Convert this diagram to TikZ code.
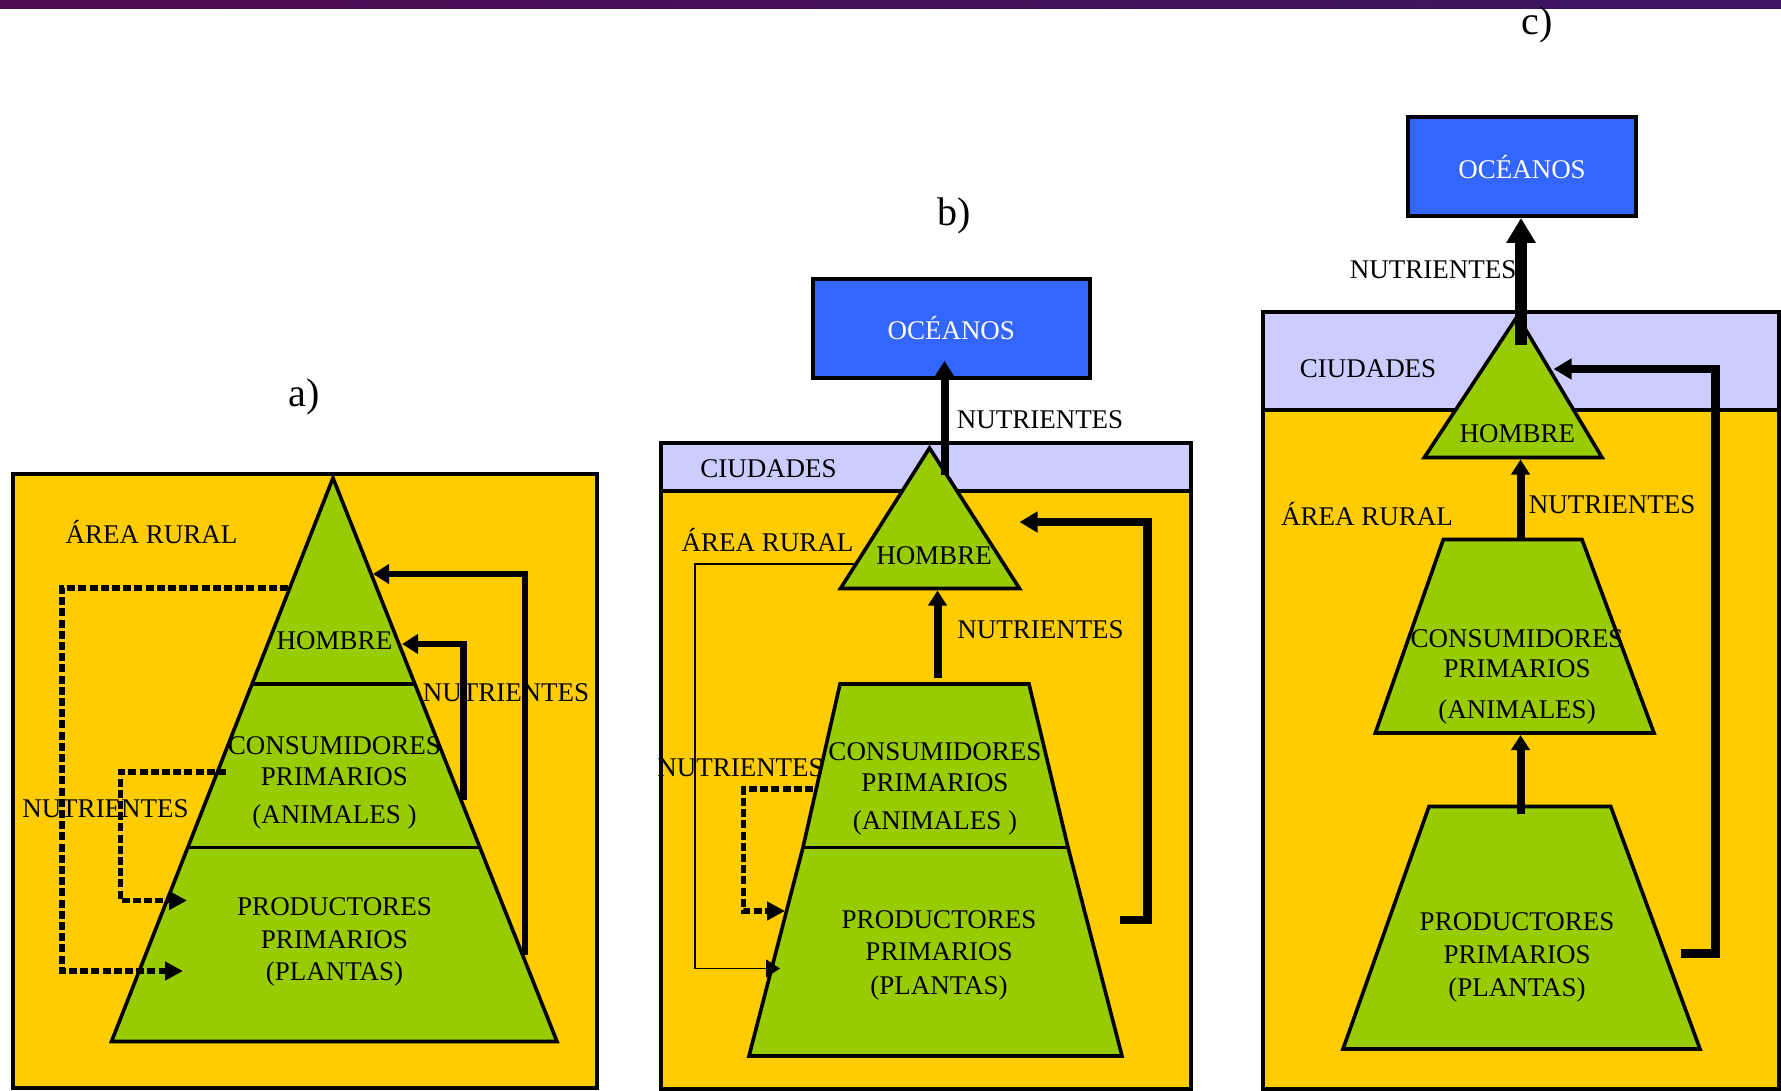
\documentclass[tikz,border=0pt]{standalone}
\usepackage{fontspec}
\setmainfont{Liberation Serif}
\usetikzlibrary{arrows.meta,calc}

\definecolor{ruralfill}{HTML}{FFCC00}
\definecolor{tierfill}{HTML}{99CC00}
\definecolor{oceanfill}{HTML}{3366FF}
\definecolor{cityfill}{HTML}{CCCCFF}
\definecolor{bandleft}{HTML}{4E0A50}
\definecolor{bandright}{HTML}{3C1662}

\begin{document}
\begin{tikzpicture}[x=0.5pt,y=-0.5pt,
  lbl/.style={font=\fontsize{13.5}{16}\selectfont, inner sep=0pt,
              text height=8.9pt, text depth=0pt, anchor=center},
  tag/.style={font=\fontsize{20}{24}\selectfont, inner sep=0pt},
  region/.style={draw=black, line width=2pt, fill=ruralfill},
  city/.style={draw=black, line width=2pt, fill=cityfill},
  ocean/.style={draw=black, line width=2pt, fill=oceanfill, text=white,
                font=\fontsize{13.5}{16}\selectfont, inner sep=0pt},
  tier/.style={draw=black, line width=1.8pt, fill=tierfill, line join=miter},
  divider/.style={draw=black, line width=1.8pt},
  flow/.style={line width=3.2pt, line join=miter,
               -{Triangle[length=8pt,width=9.5pt]}},
  flowup/.style={line width=4pt, -{Triangle[length=7.5pt,width=9pt]}},
  flowbig/.style={line width=6pt, -{Triangle[length=12.5pt,width=14pt]}},
  flowloop/.style={line width=4.2pt, line join=miter,
                   -{Triangle[length=9pt,width=10pt]}},
  recycle/.style={line width=3.2pt, dash pattern=on 4pt off 1.6pt,
                  line join=miter, -{Triangle[length=9pt,width=9pt]}},
  recyclethin/.style={recycle, line width=2.6pt},
  thinflow/.style={line width=0.8pt, -{Triangle[length=7pt,width=9pt]}}
]
\useasboundingbox (0,0) rectangle (1781,1091);
\fill[white] (0,0) rectangle (1781,1091);

% decorative band along the top edge
\shade[left color=bandleft, right color=bandright] (0,0) rectangle (1781,9);

% ================= a) rural area only =================
\node[tag] (tagA) at (304,397) {a)};
\draw[region] (13,474) rectangle (597,1088);

\coordinate (aTop) at (333,478);
\coordinate (aBL) at (111.5,1041.5);
\coordinate (aBR) at (557,1041.5);
\draw[tier] (aTop) -- (aBR) -- (aBL) -- cycle;
\draw[divider] ($(aTop)!0.3656!(aBL)$) -- ($(aTop)!0.3656!(aBR)$);
\draw[divider] ($(aTop)!0.6557!(aBL)$) -- ($(aTop)!0.6557!(aBR)$);

% nutrient flows up to man
\coordinate (aOutS) at (525,955);
\coordinate (aOutE) at (373,574);
\coordinate (aInS) at (463.5,800);
\coordinate (aInE) at (402,644);
\draw[flow] (aOutS) |- (aOutE);
\draw[flow] (aInS) |- (aInE);

% nutrients returned to the plants
\coordinate (aRetS) at (288,588);
\coordinate (aRetC1) at (62,588);
\coordinate (aRetC2) at (62,971);
\coordinate (aRetE) at (183,971);
\draw[recycle] (aRetS) -- (aRetC1) -- (aRetC2) -- (aRetE);
\coordinate (aAniS) at (226,772);
\coordinate (aAniC1) at (120.5,772);
\coordinate (aAniC2) at (120.5,900.5);
\coordinate (aAniE) at (187,900.5);
\draw[recyclethin] (aAniS) -- (aAniC1) -- (aAniC2) -- (aAniE);

\node[lbl] (aRural) at (151.5,534.4) {ÁREA RURAL};
\node[lbl] (aMan) at (334.5,641) {HOMBRE};
\node[lbl] (aNutR) at (506,692.7) {NUTRIENTES};
\node[lbl] (aCons1) at (334.5,746) {CONSUMIDORES};
\node[lbl] (aCons2) at (334.5,776.5) {PRIMARIOS};
\node[lbl] (aCons3) at (334.5,814.5) {(ANIMALES )};
\node[lbl] (aProd1) at (334.5,907) {PRODUCTORES};
\node[lbl] (aProd2) at (334.5,939.5) {PRIMARIOS};
\node[lbl] (aProd3) at (334.5,972) {(PLANTAS)};
\node[lbl] (aNutL) at (105.5,808.5) {NUTRIENTES};

% ================= b) rural area and cities =================
\node[tag] (tagB) at (954,216) {b)};
\node[ocean, minimum width=138.75pt, minimum height=49.5pt] (bOcean)
  at (951.25,328) {OCÉANOS};
\draw[region] (661,443) rectangle (1191,1089);
\draw[city] (661,443) rectangle (1191,490.5);

\coordinate (bTop) at (929.5,448);
\coordinate (bHL) at (840.5,588.5);
\coordinate (bHR) at (1019.5,588.5);
\draw[tier] (bTop) -- (bHR) -- (bHL) -- cycle;

\coordinate (bTL) at (840,684);
\coordinate (bTR) at (1029,684);
\coordinate (bML) at (803,847.3);
\coordinate (bMR) at (1068,847.3);
\coordinate (bBL) at (749,1056);
\coordinate (bBR) at (1122,1056);
\draw[tier] (bTL) -- (bTR) -- (bMR) -- (bBR) -- (bBL) -- (bML) -- cycle;
\draw[divider] (bML) -- (bMR);

\coordinate (bUpS) at (944.5,475);
\coordinate (bUpE) at (944.5,361);
\draw[flowup] (bUpS) -- (bUpE);
\coordinate (bMidS) at (937.5,678);
\coordinate (bMidE) at (937.5,590.5);
\draw[flowup] (bMidS) -- (bMidE);

\coordinate (bThS) at (856,564);
\coordinate (bThC1) at (695,564);
\coordinate (bThC2) at (695,968.5);
\coordinate (bThE) at (780,968.5);
\draw[thinflow] (bThS) -- (bThC1) -- (bThC2) -- (bThE);

\coordinate (bDaS) at (813,789);
\coordinate (bDaC1) at (743.5,789);
\coordinate (bDaC2) at (743.5,911);
\coordinate (bDaE) at (785,911);
\draw[recyclethin] (bDaS) -- (bDaC1) -- (bDaC2) -- (bDaE);

\coordinate (bLpS) at (1120,920);
\coordinate (bLpC1) at (1147.5,920);
\coordinate (bLpC2) at (1147.5,522);
\coordinate (bLpE) at (1019.5,522);
\draw[flowloop] (bLpS) -- (bLpC1) -- (bLpC2) -- (bLpE);

\node[lbl] (bNutTop) at (1040,419.5) {NUTRIENTES};
\node[lbl] (bCity) at (768.5,468.2) {CIUDADES};
\node[lbl] (bRural) at (767.6,542.7) {ÁREA RURAL};
\node[lbl] (bMan) at (934,556) {HOMBRE};
\node[lbl] (bNutMid) at (1040.5,629.2) {NUTRIENTES};
\node[lbl] (bNutL) at (740.5,768) {NUTRIENTES};
\node[lbl] (bCons1) at (935,752) {CONSUMIDORES};
\node[lbl] (bCons2) at (935,783) {PRIMARIOS};
\node[lbl] (bCons3) at (935,821) {(ANIMALES )};
\node[lbl] (bProd1) at (939,920) {PRODUCTORES};
\node[lbl] (bProd2) at (939,952) {PRIMARIOS};
\node[lbl] (bProd3) at (939,985.5) {(PLANTAS)};

% ================= c) separated chain =================
\node[tag] (tagC) at (1537,25) {c)};
\node[ocean, minimum width=114pt, minimum height=49.5pt] (cOcean)
  at (1522,167) {OCÉANOS};
\draw[region] (1262.5,311.5) rectangle (1779,1089);
\draw[city] (1262.5,311.5) rectangle (1779,409.5);

\coordinate (cTop) at (1517.5,316);
\coordinate (cHL) at (1424.3,457.5);
\coordinate (cHR) at (1602,457.5);
\draw[tier] (cTop) -- (cHR) -- (cHL) -- cycle;

\coordinate (c1TL) at (1443.3,539.5);
\coordinate (c1TR) at (1582,539.5);
\coordinate (c1BR) at (1654,733);
\coordinate (c1BL) at (1375.3,733);
\draw[tier] (c1TL) -- (c1TR) -- (c1BR) -- (c1BL) -- cycle;

\coordinate (c2TL) at (1429,806.5);
\coordinate (c2TR) at (1610.7,806.5);
\coordinate (c2BR) at (1700,1049);
\coordinate (c2BL) at (1343,1049);
\draw[tier] (c2TL) -- (c2TR) -- (c2BR) -- (c2BL) -- cycle;

\coordinate (cUpS) at (1521,345);
\coordinate (cUpE) at (1521,218);
\draw[flowbig] (cUpS) -- (cUpE);
\coordinate (cMidS) at (1520.5,538);
\coordinate (cMidE) at (1520.5,459.5);
\draw[flowup] (cMidS) -- (cMidE);
\coordinate (cLowS) at (1520.5,814);
\coordinate (cLowE) at (1520.5,735);
\draw[flowup] (cLowS) -- (cLowE);

\coordinate (cLpS) at (1680.5,953.5);
\coordinate (cLpC1) at (1715.5,953.5);
\coordinate (cLpC2) at (1715.5,369);
\coordinate (cLpE) at (1553.5,369);
\draw[flowloop] (cLpS) -- (cLpC1) -- (cLpC2) -- (cLpE);

\node[lbl] (cNutTop) at (1433,269.3) {NUTRIENTES};
\node[lbl] (cCity) at (1368,368.3) {CIUDADES};
\node[lbl] (cMan) at (1517.3,433.2) {HOMBRE};
\node[lbl] (cRural) at (1367,516.4) {ÁREA RURAL};
\node[lbl] (cNutMid) at (1612,505) {NUTRIENTES};
\node[lbl] (cCons1) at (1517,638.8) {CONSUMIDORES};
\node[lbl] (cCons2) at (1517,669) {PRIMARIOS};
\node[lbl] (cCons3) at (1517,709.3) {(ANIMALES)};
\node[lbl] (cProd1) at (1517,922) {PRODUCTORES};
\node[lbl] (cProd2) at (1517,954.6) {PRIMARIOS};
\node[lbl] (cProd3) at (1517,988) {(PLANTAS)};
\end{tikzpicture}
\end{document}
